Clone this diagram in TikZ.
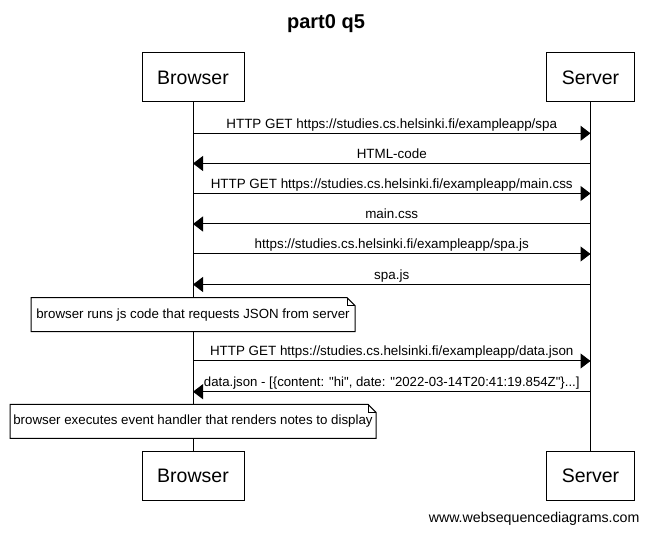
\documentclass[tikz,border=0pt]{standalone}
\usepackage{fontspec}
\setmainfont{Liberation Sans}
\usetikzlibrary{arrows.meta}
\begin{document}
\begin{tikzpicture}[x=1pt,y=-1pt,line width=1pt,
    actor/.style={draw,minimum width=#1,minimum height=49pt,inner sep=0pt,font=\fontsize{19.5}{22}\selectfont},
    msg/.style={-{Triangle[length=10pt,width=15pt]}},
    lbl/.style={anchor=base,inner sep=0pt,font=\fontsize{13.4}{15}\selectfont},
    note/.style={fill=white,minimum width=#1,minimum height=33pt,inner sep=0pt,font=\fontsize{13.3}{15}\selectfont}]
    \useasboundingbox (0,0) rectangle (649,534);
    \node[anchor=base,font=\bfseries\fontsize{20}{24}\selectfont] (title) at (326,29) {part0 q5};

    \node[actor=102pt] (browser) at (193,77.5) {Browser};
    \node[actor=88pt] (server) at (590.5,77.5) {Server};
    \node[actor=102pt] (browserend) at (193,476) {Browser};
    \node[actor=88pt] (serverend) at (590.5,476) {Server};
    \draw (browser) -- (browserend);
    \draw (server) -- (serverend);

    \coordinate (b1) at (193,133.3);
    \coordinate (s1) at (590.5,133.3);
    \draw[msg] (b1) -- (s1) node[lbl,midway,yshift=5pt] {HTTP GET https://studies.cs.helsinki.fi/exampleapp/spa};

    \coordinate (b2) at (193,163.5);
    \coordinate (s2) at (590.5,163.5);
    \draw[msg] (s2) -- (b2) node[lbl,midway,yshift=5pt] {HTML-code};

    \coordinate (b3) at (193,193.5);
    \coordinate (s3) at (590.5,193.5);
    \draw[msg] (b3) -- (s3) node[lbl,midway,yshift=5pt] {HTTP GET https://studies.cs.helsinki.fi/exampleapp/main.css};

    \coordinate (b4) at (193,224);
    \coordinate (s4) at (590.5,224);
    \draw[msg] (s4) -- (b4) node[lbl,midway,yshift=5pt] {main.css};

    \coordinate (b5) at (193,254);
    \coordinate (s5) at (590.5,254);
    \draw[msg] (b5) -- (s5) node[lbl,midway,yshift=5pt] {https://studies.cs.helsinki.fi/exampleapp/spa.js};

    \coordinate (b6) at (193,284.5);
    \coordinate (s6) at (590.5,284.5);
    \draw[msg] (s6) -- (b6) node[lbl,midway,yshift=5pt] {spa.js};

    % note over browser
    \node[note=323pt] (jsnote) at (193,314.7) {browser runs js code that requests JSON from server};
    \draw (jsnote.north west) -- ([xshift=-8pt]jsnote.north east) -- ([yshift=-8pt]jsnote.north east) -- (jsnote.south east) -- (jsnote.south west) -- cycle;
    \draw ([xshift=-8pt]jsnote.north east) |- ([yshift=-8pt]jsnote.north east);

    \coordinate (b7) at (193,361);
    \coordinate (s7) at (590.5,361);
    \draw[msg] (b7) -- (s7) node[lbl,midway,yshift=5pt] {HTTP GET https://studies.cs.helsinki.fi/exampleapp/data.json};

    \coordinate (b8) at (193,391.7);
    \coordinate (s8) at (590.5,391.7);
    \draw[msg] (s8) -- (b8) node[lbl,midway,yshift=5pt,font=\fontsize{13.2}{15}\selectfont] {data.json - [\{content: \textquotedbl hi\textquotedbl, date: \textquotedbl 2022-03-14T20:41:19.854Z\textquotedbl\}...]};

    % note over browser
    \node[note=365pt] (rendernote) at (193,421.3) {browser executes event handler that renders notes to display};
    \draw (rendernote.north west) -- ([xshift=-8pt]rendernote.north east) -- ([yshift=-8pt]rendernote.north east) -- (rendernote.south east) -- (rendernote.south west) -- cycle;
    \draw ([xshift=-8pt]rendernote.north east) |- ([yshift=-8pt]rendernote.north east);

    \node[lbl,anchor=base east,font=\fontsize{14.2}{16}\selectfont] (wsd) at (640,523) {www.websequencediagrams.com};
\end{tikzpicture}
\end{document}
